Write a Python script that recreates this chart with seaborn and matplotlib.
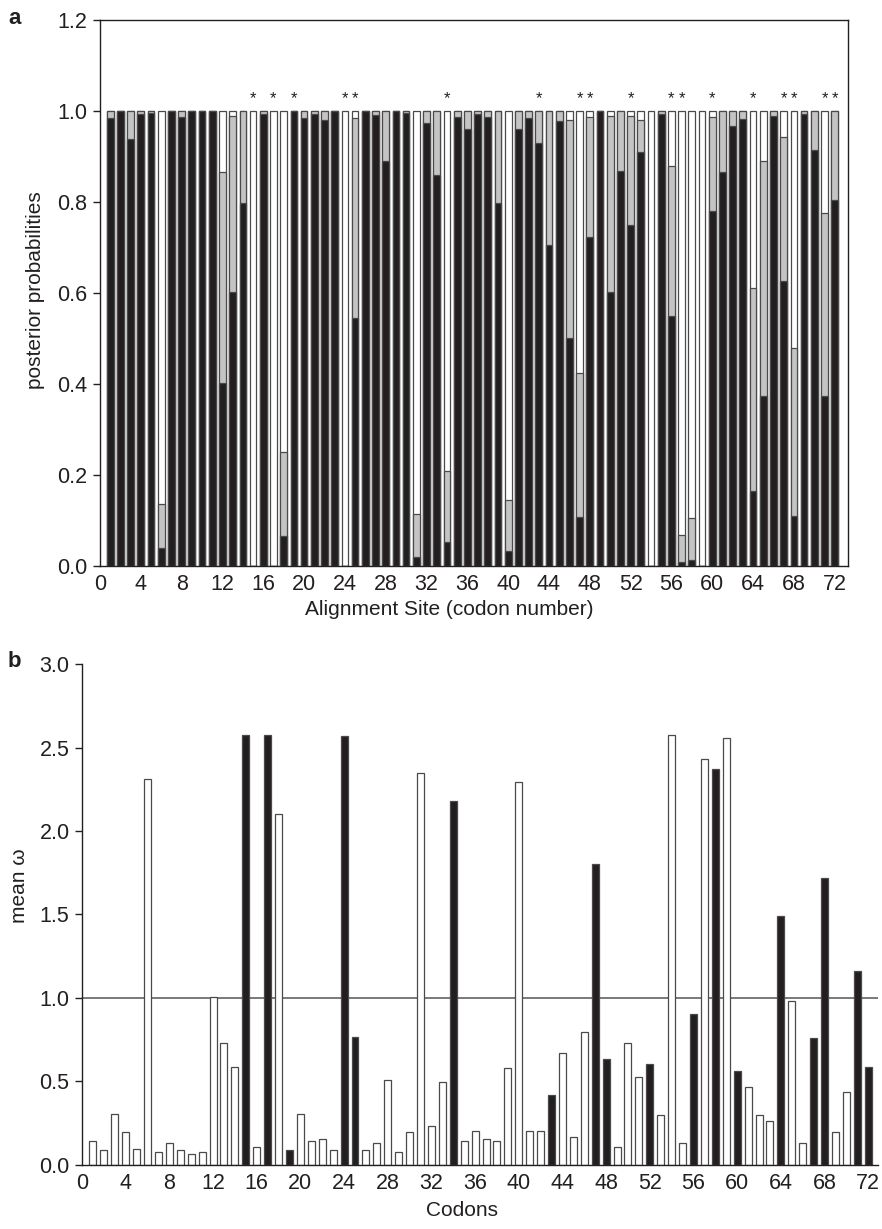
import numpy as np
import pandas as pd
import matplotlib
matplotlib.use("Agg")
import matplotlib.pyplot as plt
import seaborn as sns

# ---------------- data ----------------
sites = list(range(1, 73))

# panel a: posterior probabilities (black = lower class, gray = middle, white = rest)
p_black = [0.984, 1.0, 0.939, 0.994, 0.995, 0.039, 1.0, 0.987, 1.0, 1.0,
           1.0, 0.402, 0.602, 0.797, 0.0, 0.994, 0.0, 0.066, 1.0, 0.984,
           0.994, 0.98, 1.0, 0.0, 0.546, 1.0, 0.992, 0.89, 1.0, 0.996,
           0.019, 0.973, 0.859, 0.053, 0.987, 0.96, 0.994, 0.987, 0.797, 0.032,
           0.96, 0.984, 0.93, 0.705, 0.978, 0.502, 0.107, 0.722, 1.0, 0.602,
           0.868, 0.749, 0.909, 0.0, 0.994, 0.549, 0.008, 0.013, 0.0, 0.78,
           0.867, 0.966, 0.982, 0.164, 0.373, 0.99, 0.627, 0.110, 0.994, 0.914,
           0.373, 0.805]
p_gray = [0.016, 0.0, 0.061, 0.006, 0.005, 0.097, 0.0, 0.013, 0.0, 0.0,
          0.0, 0.463, 0.388, 0.203, 0.0, 0.006, 0.0, 0.185, 0.0, 0.016,
          0.006, 0.02, 0.0, 0.0, 0.438, 0.0, 0.008, 0.11, 0.0, 0.004,
          0.096, 0.027, 0.141, 0.155, 0.013, 0.04, 0.006, 0.013, 0.203, 0.112,
          0.04, 0.016, 0.07, 0.295, 0.022, 0.478, 0.318, 0.265, 0.0, 0.388,
          0.132, 0.241, 0.071, 0.0, 0.006, 0.331, 0.06, 0.092, 0.0, 0.207,
          0.133, 0.034, 0.018, 0.448, 0.517, 0.01, 0.316, 0.369, 0.006, 0.086,
          0.403, 0.195]
star_sites = [15, 17, 19, 24, 25, 34, 43, 47, 48, 52, 56, 57, 60, 64, 67, 68, 71, 72]

# panel b: mean omega
omega = [0.142, 0.087, 0.304, 0.197, 0.095, 2.312, 0.077, 0.132, 0.087, 0.067,
         0.077, 1.008, 0.730, 0.588, 2.572, 0.105, 2.572, 2.099, 0.087, 0.304,
         0.142, 0.158, 0.087, 2.566, 0.767, 0.087, 0.132, 0.507, 0.077, 0.197,
         2.349, 0.233, 0.497, 2.181, 0.142, 0.203, 0.158, 0.142, 0.582, 2.296,
         0.203, 0.203, 0.42, 0.669, 0.168, 0.795, 1.803, 0.635, 0.105, 0.730,
         0.527, 0.604, 0.302, 2.576, 0.132, 0.903, 2.430, 2.369, 2.556, 0.564,
         0.464, 0.302, 0.266, 1.491, 0.982, 0.132, 0.759, 1.716, 0.197, 0.436,
         1.162, 0.588]
black_sites_b = [15, 17, 19, 24, 25, 34, 43, 47, 48, 52, 56, 58, 60, 64, 67, 68, 71, 72]

xtick_labels = list(range(0, 73, 4))
tickmark_sites = [0, 20, 40, 60]

# ---------------- style ----------------
sns.set_theme(style="white")
plt.rcParams['font.family'] = ['Liberation Sans', 'DejaVu Sans']
plt.rcParams['axes.linewidth'] = 1.0

BLACK = "#231f20"
GRAY = "#c4c4c4"
EDGE = "#4a4a4a"
TXT = "#231f20"
FS_TICK = 15.5
FS_LAB = 15

fig = plt.figure(figsize=(8.82, 12.29), dpi=100)
ax_a = fig.add_axes([0.1134, 0.5395, 0.848, 0.4442])
ax_b = fig.add_axes([0.093, 0.0521, 0.9025, 0.4076])

df_a = pd.DataFrame({"site": sites, "black": p_black, "gray": p_gray})
df_a["bg"] = df_a["black"] + df_a["gray"]
df_a["total"] = 1.0

W = 0.66
for col, color in [("total", "white"), ("bg", GRAY), ("black", BLACK)]:
    sns.barplot(data=df_a, x="site", y=col, native_scale=True, width=W,
                color=color, edgecolor=EDGE, linewidth=0.9, saturation=1,
                errorbar=None, ax=ax_a)

for s in star_sites:
    ax_a.text(s, 1.010, "*", ha="center", va="bottom", fontsize=12, color=TXT)

ax_a.set_xlim(0, 73.3)
ax_a.set_ylim(0, 1.2)
ax_a.set_yticks(np.arange(0, 1.21, 0.2))
ax_a.set_yticklabels([f"{v:.1f}" for v in np.arange(0, 1.21, 0.2)])
ax_a.set_xticks(xtick_labels)
ax_a.set_xticklabels([str(v) for v in xtick_labels])
ax_a.set_xticks(tickmark_sites, minor=True)
ax_a.tick_params(axis="x", which="major", length=0, pad=6, labelsize=FS_TICK, colors=TXT)
ax_a.tick_params(axis="x", which="minor", length=5, width=1, direction="out", bottom=True, color=TXT)
ax_a.tick_params(axis="y", which="major", length=5, width=1, direction="out", left=True,
                 labelsize=FS_TICK, colors=TXT, pad=4)
for sp in ax_a.spines.values():
    sp.set_visible(True)
    sp.set_color(TXT)
ax_a.set_xlabel("Alignment Site (codon number)", fontsize=FS_LAB, color=TXT)
ax_a.set_ylabel("posterior probabilities", fontsize=FS_LAB, color=TXT)
ax_a.xaxis.set_label_coords(0.467, -0.062)
ax_a.yaxis.set_label_coords(-0.073, 0.505)
fig.text(0.016, 0.985, "a", fontsize=16, fontweight="bold", color=TXT, ha="center", va="center")

# ---------------- panel b ----------------
df_b = pd.DataFrame({"site": sites, "omega": omega})
df_b["cls"] = ["pos" if s in black_sites_b else "neg" for s in sites]

sns.barplot(data=df_b, x="site", y="omega", hue="cls", native_scale=True,
            width=0.64, dodge=False, palette={"pos": BLACK, "neg": "white"},
            edgecolor=EDGE, linewidth=0.9, saturation=1, errorbar=None,
            legend=False, ax=ax_b)
ax_b.axhline(1.0, color="#555555", linewidth=1.1, zorder=0.5)

ax_b.set_xlim(0, 72.9)
ax_b.set_ylim(0, 3.0)
ax_b.set_yticks(np.arange(0, 3.01, 0.5))
ax_b.set_yticklabels([f"{v:.1f}" for v in np.arange(0, 3.01, 0.5)])
ax_b.set_xticks(xtick_labels)
ax_b.set_xticklabels([str(v) for v in xtick_labels])
ax_b.set_xticks(tickmark_sites, minor=True)
ax_b.tick_params(axis="x", which="major", length=0, pad=6, labelsize=FS_TICK, colors=TXT)
ax_b.tick_params(axis="x", which="minor", length=5, width=1, direction="out", bottom=True, color=TXT)
ax_b.tick_params(axis="y", which="major", length=5, width=1, direction="out", left=True,
                 labelsize=FS_TICK, colors=TXT, pad=4)
ax_b.spines["top"].set_visible(False)
ax_b.spines["right"].set_visible(False)
ax_b.spines["left"].set_color(TXT)
ax_b.spines["bottom"].set_color(TXT)
ax_b.set_xlabel("Codons", fontsize=FS_LAB, color=TXT)
ax_b.set_ylabel("mean ω", fontsize=FS_LAB, color=TXT)
ax_b.xaxis.set_label_coords(0.477, -0.072)
ax_b.yaxis.set_label_coords(-0.066, 0.557)
fig.text(0.016, 0.462, "b", fontsize=16, fontweight="bold", color=TXT, ha="center", va="center")

fig.savefig("out.png", dpi=100)
